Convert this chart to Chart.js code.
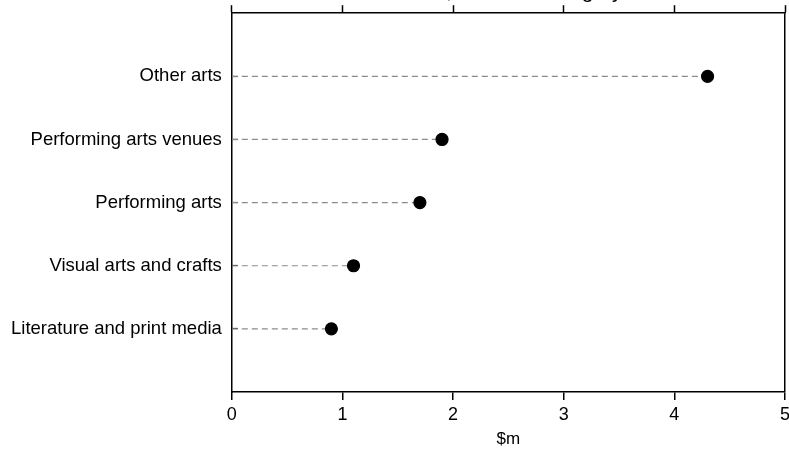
<!DOCTYPE html>
<html>
<head>
<meta charset="utf-8">
<script src="https://cdn.jsdelivr.net/npm/chart.js@4/dist/chart.umd.min.js"></script>
<style>
  html, body { margin: 0; padding: 0; overflow: hidden; background: #fff; }
  #wrap { position: absolute; left: 0; top: -30px; }
</style>
</head>
<body>
<div id="wrap"><canvas id="myChart" width="800" height="482"></canvas></div>
<script>
// categories top to bottom
let categories = ['Other arts', 'Performing arts venues', 'Performing arts', 'Visual arts and crafts', 'Literature and print media']
let values = [4.3, 1.9, 1.7, 1.1, 0.9]
let xTicks = [0, 1, 2, 3, 4, 5]

// one dashed line + dot per category
let datasets = categories.map((c, i) => ({
    label: c,
    data: [{x: 0, y: i + 1}, {x: values[i], y: i + 1}],
    borderColor: '#8c8c8c',
    borderWidth: 1.2,
    borderDash: [6, 4],
    pointRadius: [0, 6],
    pointBackgroundColor: '#000',
    pointBorderColor: '#000',
    pointHoverRadius: [0, 6],
    showLine: true
}))

const font = {family: 'Liberation Sans', size: 18.5}
const xMax = xTicks[xTicks.length - 1]

const config = {
    type: 'scatter',
    data: {datasets: datasets},
    options: {
        responsive: false,
        animation: false,
        layout: {padding: {left: -5, right: 15, top: 0, bottom: 2}},
        plugins: {
            legend: {display: false},
            tooltip: {enabled: false},
            title: {
                display: true,
                fullSize: false,
                text: 'Value, selected category',
                color: '#000',
                font: {family: 'Liberation Sans', size: 21, weight: 'normal'},
                padding: {top: 10, bottom: 0}
            }
        },
        scales: {
            x: {
                type: 'linear', position: 'bottom', min: 0, max: xMax,
                afterBuildTicks: s => { s.ticks = xTicks.map(v => ({value: v})) },
                ticks: {color: '#000', font: {family: 'Liberation Sans', size: 18}, padding: 4, maxRotation: 0},
                // only the last grid line is drawn: it closes the frame on the right
                grid: {drawOnChartArea: true, tickLength: 8, tickColor: '#000', tickWidth: 1.5, lineWidth: 1.5,
                    color: c => (c.tick && c.tick.value === xMax) ? '#000' : 'rgba(0,0,0,0)'},
                border: {color: '#000', width: 1.5},
                title: {display: true, text: '$m', color: '#000', font: {family: 'Liberation Sans', size: 17}, padding: {top: 0, bottom: 0}}
            },
            x2: {
                type: 'linear', position: 'top', min: 0, max: xMax,
                afterBuildTicks: s => { s.ticks = xTicks.map(v => ({value: v})) },
                ticks: {display: false},
                grid: {drawOnChartArea: false, tickLength: 8, color: '#000', tickWidth: 1.5},
                border: {color: '#000', width: 1.5}
            },
            y: {
                type: 'linear', reverse: true, min: 0, max: 6,
                afterBuildTicks: s => { s.ticks = categories.map((c, i) => ({value: i + 1})) },
                ticks: {color: '#000', font: font, padding: 16,
                    callback: v => categories[v - 1] || ''},
                grid: {drawOnChartArea: false, tickLength: -6, color: '#000', tickWidth: 1.2},
                border: {color: '#000', width: 1.5}
            }
        }
    }
}

var ctx = document.getElementById('myChart')
var newmychart = new Chart(ctx, config)
</script>
</body>
</html>
